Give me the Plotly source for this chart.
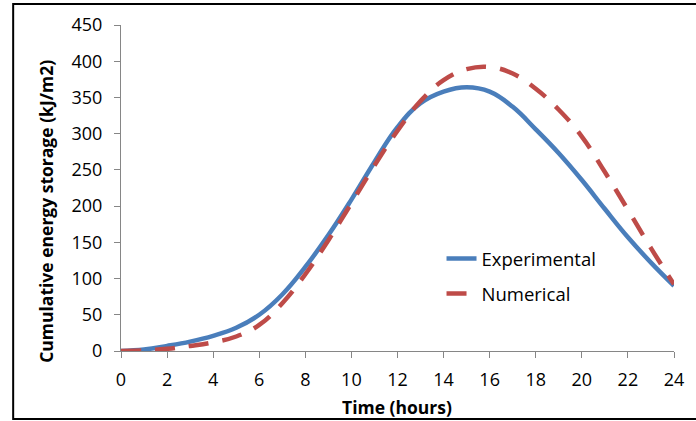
import plotly.graph_objects as go

# Time in hours
hours = list(range(0, 25))

# Cumulative energy storage (kJ/m2)
experimental = [0, 2, 7, 13, 21, 32, 50, 78, 116, 160, 209, 261, 309, 342, 358, 364, 358,
                337, 306, 273, 236, 196, 157, 122, 90]
numerical = [0, 1, 3, 7, 12, 20, 36, 66, 106, 153, 204, 256, 304, 345, 374, 389, 392,
             383, 362, 333, 296, 247, 195, 142, 92]

x_ticks = list(range(0, 25, 2))
y_ticks = list(range(0, 451, 50))

FONT = "Open Sans"
AXIS_GRAY = "#868686"

fig = go.Figure()
fig.add_trace(go.Scatter(
    x=hours, y=experimental, mode="lines", name="Experimental",
    line=dict(color="#4A7EBB", width=4.5, shape="spline", smoothing=1.2),
    legendgroup="a",
))
fig.add_trace(go.Scatter(
    x=hours, y=numerical, mode="lines", name="Numerical",
    line=dict(color="#BE4B48", width=4.5, shape="spline", smoothing=1.2, dash="20px,14px"),
    legendgroup="b",
))

W, H = 696, 421
L, R, T, B = 121, 16, 25, 70
pw, ph = W - L - R, H - T - B


def px_x(p):
    return (p - L) / pw


def px_y(p):
    return (H - B - p) / ph


fig.update_layout(
    width=W, height=H,
    margin=dict(l=L, r=R, t=T, b=B),
    paper_bgcolor="white", plot_bgcolor="white",
    font=dict(family=FONT, size=18, color="black"),
    showlegend=True,
    legend=dict(
        x=px_x(445), y=px_y(240), xanchor="left", yanchor="top",
        bgcolor="rgba(0,0,0,0)", tracegroupgap=8,
        font=dict(family=FONT, size=18.5),
    ),
    xaxis=dict(
        range=[0, 24], tickmode="array", tickvals=x_ticks,
        showline=True, linecolor=AXIS_GRAY, linewidth=1,
        ticks="outside", ticklen=6, tickcolor=AXIS_GRAY,
        showgrid=False, zeroline=False, ticklabelstandoff=6,
        tickfont=dict(family=FONT, size=18),
    ),
    yaxis=dict(
        range=[0, 450], tickmode="array", tickvals=y_ticks,
        showline=True, linecolor=AXIS_GRAY, linewidth=1,
        ticks="outside", ticklen=6, tickcolor=AXIS_GRAY,
        showgrid=False, zeroline=False, ticklabelstandoff=8,
        tickfont=dict(family=FONT, size=18),
    ),
    annotations=[
        dict(text="<b>Time (hours)</b>", xref="paper", yref="paper",
             x=px_x(400), y=px_y(407), xanchor="center", yanchor="middle",
             showarrow=False, font=dict(family=FONT, size=17.5)),
        dict(text="<b>Cumulative energy storage (kJ/m2)</b>", xref="paper", yref="paper",
             x=px_x(45), y=px_y(211), xanchor="center", yanchor="middle",
             textangle=-90, showarrow=False, font=dict(family=FONT, size=17.5)),
    ],
    shapes=[
        dict(type="rect", xref="paper", yref="paper",
             x0=px_x(12), x1=px_x(705), y0=px_y(419), y1=px_y(4),
             line=dict(color="black", width=2), fillcolor="rgba(0,0,0,0)", layer="below"),
    ],
)

fig.write_html("out.html")
